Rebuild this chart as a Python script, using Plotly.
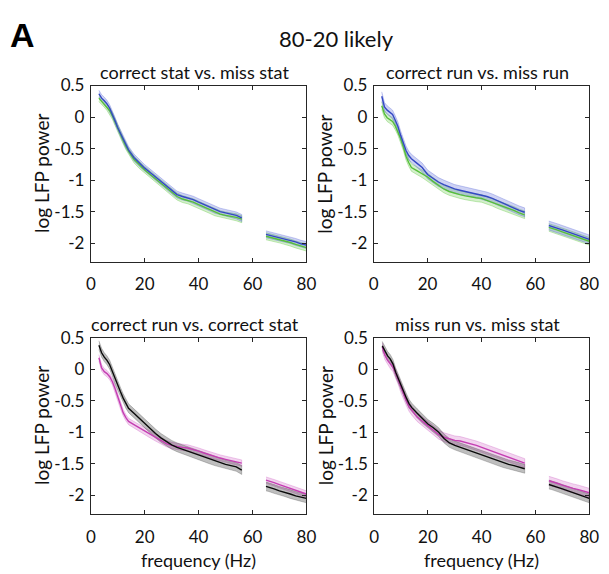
import plotly.graph_objects as go

# ---------------- data ----------------
FREQ_LOW = [3, 4, 5, 6, 7, 8, 9, 10, 11, 12, 13, 14, 16, 18, 20, 22, 24, 26, 28, 30,
            32, 34, 36, 38, 40, 42, 44, 46, 48, 50, 52, 54, 56]
FREQ_HIGH = [65, 66, 68, 70, 72, 74, 76, 78, 80]

# panel 1: correct stat vs. miss stat
tl_blue_low = [0.37, 0.30, 0.26, 0.21, 0.14, 0.05, -0.06, -0.17, -0.26, -0.35, -0.44, -0.52, -0.64,
               -0.73, -0.81, -0.88, -0.95, -1.02, -1.09, -1.16, -1.23, -1.26, -1.28, -1.31, -1.35,
               -1.39, -1.43, -1.47, -1.50, -1.52, -1.54, -1.56, -1.60]
tl_blue_high = [-1.86, -1.87, -1.89, -1.91, -1.93, -1.95, -1.98, -2.01, -2.03]
tl_green_low = [0.30, 0.25, 0.21, 0.16, 0.10, 0.02, -0.08, -0.19, -0.28, -0.37, -0.46, -0.54, -0.67,
                -0.76, -0.84, -0.91, -0.98, -1.05, -1.12, -1.19, -1.26, -1.30, -1.32, -1.35, -1.39,
                -1.43, -1.47, -1.51, -1.54, -1.56, -1.57, -1.59, -1.62]
tl_green_high = [-1.89, -1.90, -1.92, -1.94, -1.96, -1.99, -2.02, -2.05, -2.07]

# panel 2: correct run vs. miss run
tr_blue_low = [0.33, 0.16, 0.11, 0.08, 0.04, -0.05, -0.15, -0.29, -0.41, -0.53, -0.61, -0.66, -0.73,
               -0.80, -0.91, -0.97, -1.03, -1.07, -1.11, -1.14, -1.16, -1.18, -1.19, -1.21, -1.23,
               -1.26, -1.29, -1.33, -1.37, -1.40, -1.44, -1.48, -1.51]
tr_blue_high = [-1.72, -1.73, -1.76, -1.79, -1.82, -1.85, -1.88, -1.91, -1.94]
tr_green_low = [0.18, 0.05, -0.01, -0.04, -0.07, -0.14, -0.23, -0.34, -0.47, -0.62, -0.72, -0.80, -0.85,
                -0.90, -0.95, -1.02, -1.08, -1.14, -1.18, -1.21, -1.23, -1.25, -1.27, -1.28, -1.29,
                -1.32, -1.35, -1.39, -1.42, -1.45, -1.48, -1.52, -1.55]
tr_green_high = [-1.75, -1.76, -1.79, -1.82, -1.85, -1.88, -1.91, -1.94, -1.97]

# panel 3: correct run vs. correct stat
bl_black_low = [0.38, 0.26, 0.19, 0.14, 0.07, -0.04, -0.17, -0.28, -0.36, -0.46, -0.55, -0.62, -0.70,
                -0.78, -0.87, -0.94, -1.02, -1.09, -1.15, -1.20, -1.24, -1.27, -1.30, -1.34, -1.37,
                -1.40, -1.43, -1.46, -1.49, -1.51, -1.53, -1.55, -1.60]
bl_black_high = [-1.86, -1.87, -1.90, -1.93, -1.95, -1.98, -2.01, -2.03, -2.05]
bl_mag_low = [0.18, 0.02, -0.04, -0.07, -0.12, -0.20, -0.31, -0.44, -0.58, -0.69, -0.77, -0.83, -0.88,
              -0.93, -0.99, -1.04, -1.09, -1.14, -1.18, -1.21, -1.23, -1.24, -1.25, -1.27, -1.30,
              -1.33, -1.36, -1.39, -1.41, -1.43, -1.45, -1.47, -1.49]
bl_mag_high = [-1.76, -1.77, -1.80, -1.83, -1.86, -1.89, -1.92, -1.95, -1.98]

# panel 4: miss run vs. miss stat
br_black_low = [0.37, 0.28, 0.21, 0.16, 0.08, -0.05, -0.16, -0.26, -0.36, -0.46, -0.55, -0.61, -0.70,
                -0.79, -0.87, -0.93, -1.00, -1.10, -1.17, -1.21, -1.24, -1.27, -1.31, -1.34, -1.37,
                -1.40, -1.43, -1.46, -1.49, -1.51, -1.53, -1.56, -1.58]
br_black_high = [-1.83, -1.84, -1.87, -1.90, -1.93, -1.95, -1.98, -2.02, -2.05]
br_mag_low = [0.35, 0.22, 0.14, 0.08, 0.03, -0.07, -0.18, -0.31, -0.41, -0.51, -0.60, -0.66, -0.76,
              -0.83, -0.90, -0.97, -1.04, -1.08, -1.11, -1.13, -1.14, -1.16, -1.18, -1.21, -1.24,
              -1.27, -1.31, -1.34, -1.37, -1.40, -1.43, -1.46, -1.49]
br_mag_high = [-1.77, -1.78, -1.81, -1.84, -1.87, -1.89, -1.91, -1.94, -1.96]

# band half-widths (s.e.m.)
SEM_TL = [0.055, 0.055]
SEM_TR = [0.07, 0.06]
SEM_BL = [0.07, 0.05]
SEM_BR = [0.07, 0.07]

PANEL_TITLES = ["correct stat vs. miss stat", "correct run vs. miss run",
                "correct run vs. correct stat", "miss run vs. miss stat"]
X_TICKS = [0, 20, 40, 60, 80]
Y_TICKS = [-2, -1.5, -1, -0.5, 0, 0.5]
Y_TICK_TEXT = ["-2", "-1.5", "-1", "-0.5", "0", "0.5"]

# ---------------- style ----------------
BLUE = "rgb(52,72,196)"
GREEN = "rgb(86,190,58)"
BLACK = "rgb(10,10,10)"
MAG = "rgb(196,62,178)"
BAND = {BLUE: "rgba(80,95,215,0.28)", GREEN: "rgba(100,200,70,0.28)",
        BLACK: "rgba(40,40,40,0.30)", MAG: "rgba(205,90,195,0.26)"}
EDGE = {BLUE: "rgba(80,95,215,0.45)", GREEN: "rgba(100,200,70,0.55)",
        BLACK: "rgba(40,40,40,0.35)", MAG: "rgba(205,90,195,0.45)"}
FONT = "Lato"
AX = "#262626"
TICK_SIZE = 17

W, H = 609, 574
# axes boxes in pixels: (left, right, top, bottom)
BOXES = [(88, 309, 76, 256), (378, 599, 76, 256), (88, 309, 333, 513), (378.5, 599, 333, 513)]

fig = go.Figure()

panels = [
    [(tl_green_low, tl_green_high, GREEN, SEM_TL[1]), (tl_blue_low, tl_blue_high, BLUE, SEM_TL[0])],
    [(tr_green_low, tr_green_high, GREEN, SEM_TR[1]), (tr_blue_low, tr_blue_high, BLUE, SEM_TR[0])],
    [(bl_mag_low, bl_mag_high, MAG, SEM_BL[1]), (bl_black_low, bl_black_high, BLACK, SEM_BL[0])],
    [(br_mag_low, br_mag_high, MAG, SEM_BR[1]), (br_black_low, br_black_high, BLACK, SEM_BR[0])],
]

for i, series in enumerate(panels):
    xa = "x" if i == 0 else f"x{i+1}"
    ya = "y" if i == 0 else f"y{i+1}"
    for low, high, col, sem in series:
        for fr, vals in ((FREQ_LOW, low), (FREQ_HIGH, high)):
            up = [v + sem for v in vals]
            dn = [v - sem for v in vals]
            fig.add_trace(go.Scatter(x=fr + fr[::-1], y=up + dn[::-1], fill="toself",
                                     fillcolor=BAND[col], line=dict(color=EDGE[col], width=0.7),
                                     mode="lines", hoverinfo="skip", showlegend=False,
                                     xaxis=xa, yaxis=ya))
    for low, high, col, sem in series:
        fig.add_trace(go.Scatter(x=FREQ_LOW + [None] + FREQ_HIGH, y=low + [None] + high,
                                 mode="lines", line=dict(color=col, width=1.4),
                                 connectgaps=False, showlegend=False, xaxis=xa, yaxis=ya))

layout = dict(width=W, height=H, margin=dict(l=0, r=0, t=0, b=0),
              paper_bgcolor="white", plot_bgcolor="white",
              font=dict(family=FONT, size=TICK_SIZE, color="#111"), showlegend=False)

annotations = []
for i, (l, r, t, b) in enumerate(BOXES):
    sx = "" if i == 0 else str(i + 1)
    bottom_row = i >= 2
    layout[f"xaxis{sx}"] = dict(
        domain=[l / W, r / W], range=[0, 80], anchor=f"y{sx}",
        tickvals=X_TICKS, ticktext=[str(v) for v in X_TICKS],
        ticks="inside", ticklen=4, tickcolor=AX, tickwidth=1,
        showline=True, linecolor=AX, linewidth=1, mirror="ticks",
        showgrid=False, zeroline=False, showticklabels=True,
        tickfont=dict(family=FONT, size=TICK_SIZE, color="#111"), ticklabelstandoff=7)
    layout[f"yaxis{sx}"] = dict(
        domain=[1 - b / H, 1 - t / H], range=[-2.3, 0.5], anchor=f"x{sx}",
        tickvals=Y_TICKS, ticktext=Y_TICK_TEXT,
        ticks="inside", ticklen=4, tickcolor=AX, tickwidth=1,
        showline=True, linecolor=AX, linewidth=1, mirror="ticks",
        showgrid=False, zeroline=False,
        tickfont=dict(family=FONT, size=TICK_SIZE, color="#111"), ticklabelstandoff=2)
    cx = (l + r) / 2
    annotations.append(dict(text=PANEL_TITLES[i], x=(cx - 4) / W, y=1 - (t - 14) / H,
                            xref="paper", yref="paper", showarrow=False,
                            xanchor="center", yanchor="middle",
                            font=dict(family=FONT, size=18, color="#111")))
    annotations.append(dict(text="log LFP power", x=(l - 50) / W, y=1 - ((t + b) / 2) / H,
                            xref="paper", yref="paper", showarrow=False, textangle=-90,
                            xanchor="center", yanchor="middle",
                            font=dict(family=FONT, size=19, color="#111")))
    if bottom_row:
        annotations.append(dict(text="frequency (Hz)", x=cx / W, y=1 - 560 / H,
                                xref="paper", yref="paper", showarrow=False,
                                xanchor="center", yanchor="middle",
                                font=dict(family=FONT, size=18, color="#111")))

annotations.append(dict(text="80-20 likely", x=340 / W, y=1 - 28 / H, xref="paper", yref="paper",
                        showarrow=False, xanchor="center", yanchor="middle",
                        font=dict(family=FONT, size=22, color="#111")))
annotations.append(dict(text="<b>A</b>", x=3 / W, y=1 - 24 / H, xref="paper", yref="paper",
                        showarrow=False, xanchor="left", yanchor="middle",
                        font=dict(family="Liberation Sans", size=34, color="#000")))
layout["annotations"] = annotations

fig.update_layout(**layout)
fig.write_html("out.html")
